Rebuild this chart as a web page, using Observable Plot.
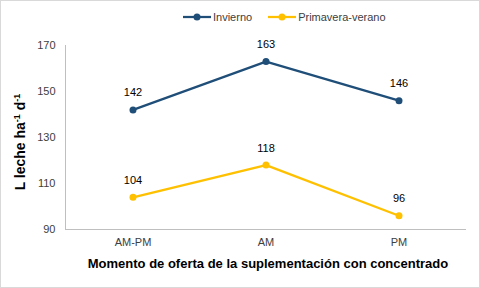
<!DOCTYPE html>
<html><head><meta charset="utf-8">
<script src="https://cdn.jsdelivr.net/npm/d3@7"></script>
<script src="https://cdn.jsdelivr.net/npm/@observablehq/plot@0.6"></script>
<style>
body{margin:0;background:#fff;font-family:"Liberation Sans",Arial,sans-serif;}
#wrap{position:relative;width:480px;height:288px;}
#border{position:absolute;left:0;top:0;width:480px;height:288px;box-sizing:border-box;border:1px solid #d9d9d9;pointer-events:none;}
#legend{position:absolute;top:11px;left:183px;font-size:11px;color:#404040;display:flex;gap:16px;align-items:center;font-family:"Liberation Sans",Arial,sans-serif;}
.li{display:flex;align-items:center;gap:2px;}
</style></head>
<body><div id="wrap"><div id="legend"></div><div id="border"></div></div>
<script>
const categories = ["AM-PM", "AM", "PM"];
const invierno = [142, 163, 146];
const primavera = [104, 118, 96];
const seriesNames = ["Invierno", "Primavera-verano"];
const colors = ["#1F4E79", "#FFC000"];
const yTicks = [90, 110, 130, 150, 170];

const data = [];
categories.forEach((c, i) => {
  data.push({cat: c, value: invierno[i], series: seriesNames[0]});
  data.push({cat: c, value: primavera[i], series: seriesNames[1]});
});

const chart = Plot.plot({
  width: 480, height: 288,
  marginTop: 45, marginBottom: 59, marginLeft: 65, marginRight: 15,
  style: {fontFamily: "'Liberation Sans', Arial, sans-serif", fontSize: "11px", color: "#404040", background: "transparent"},
  x: {type: "band", domain: categories, padding: 0, label: null},
  y: {domain: [90, 170], label: null},
  color: {domain: seriesNames, range: colors},
  marks: [
    Plot.frame({anchor: "left", stroke: "#bfbfbf"}),
    Plot.frame({anchor: "bottom", stroke: "#bfbfbf"}),
    Plot.axisY({ticks: yTicks, tickSize: 0, tickPadding: 10, fill: "#404040", fontSize: 11}),
    Plot.axisX({tickSize: 0, tickPadding: 9, fill: "#404040", fontSize: 11}),
    Plot.line(data, {x: "cat", y: "value", z: "series", stroke: "series", strokeWidth: 2.25}),
    Plot.dot(data, {x: "cat", y: "value", fill: "series", r: 3.5}),
    Plot.text(data, {x: "cat", y: "value", text: d => String(d.value), dy: -17, fill: "#000", fontSize: 11})
  ]
});

const wrap = document.getElementById("wrap");
wrap.insertBefore(chart, wrap.firstChild);
chart.style.position = "absolute"; chart.style.left = "0"; chart.style.top = "0";

const svg = d3.select(chart);
svg.append("text").attr("x", 268).attr("y", 268).attr("text-anchor", "middle")
  .attr("font-weight", "bold").attr("font-size", 13).attr("fill", "#000")
  .text("Momento de oferta de la suplementación con concentrado");
const yt = svg.append("text").attr("transform", "translate(25,142) rotate(-90)")
  .attr("text-anchor", "middle").attr("font-weight", "bold").attr("font-size", 14).attr("fill", "#000");
yt.append("tspan").text("L leche ha");
yt.append("tspan").attr("dy", -5).attr("font-size", 9).text("-1");
yt.append("tspan").attr("dy", 5).text(" d");
yt.append("tspan").attr("dy", -5).attr("font-size", 9).text("-1");

const leg = d3.select("#legend");
seriesNames.forEach((s, i) => {
  const it = leg.append("div").attr("class", "li");
  const sv = it.append("svg").attr("width", 28).attr("height", 10);
  sv.append("line").attr("x1", 0).attr("x2", 28).attr("y1", 5).attr("y2", 5).attr("stroke", colors[i]).attr("stroke-width", 2.25);
  sv.append("circle").attr("cx", 14).attr("cy", 5).attr("r", 3.5).attr("fill", colors[i]);
  it.append("span").text(s);
});
</script></body></html>
